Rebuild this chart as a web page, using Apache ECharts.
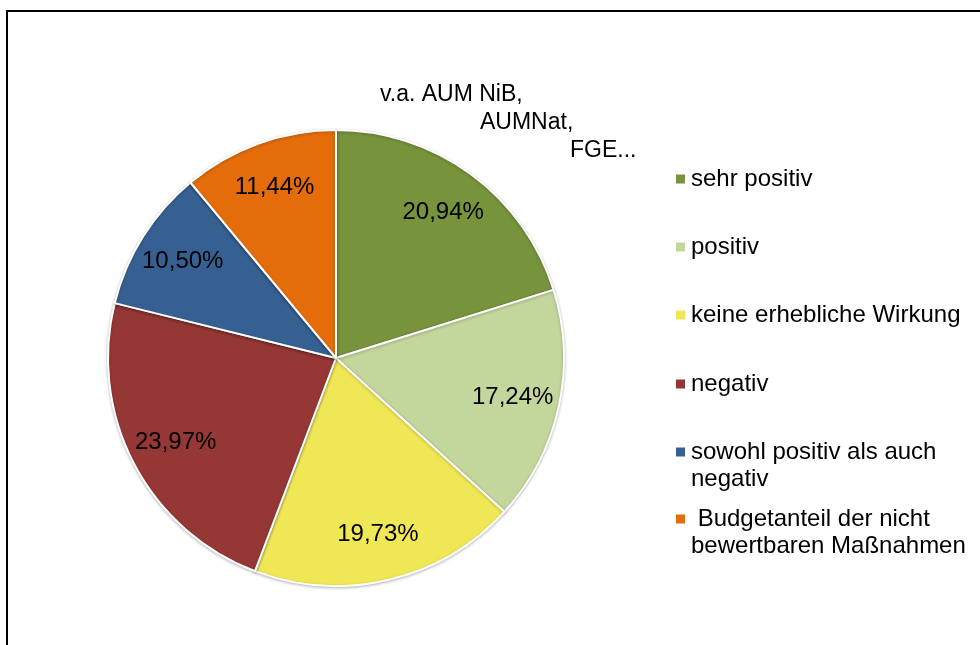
<!DOCTYPE html>
<html>
<head>
<meta charset="utf-8">
<script src="https://cdn.jsdelivr.net/npm/echarts@6/dist/echarts.min.js"></script>
<style>
html,body{margin:0;padding:0;background:#fff;}
#chart{width:980px;height:645px;}
</style>
</head>
<body>
<div id="chart"></div>
<script>
const categories = [
  'sehr positiv',
  'positiv',
  'keine erhebliche Wirkung',
  'negativ',
  'sowohl positiv als auch\nnegativ',
  ' Budgetanteil der nicht\nbewertbaren Maßnahmen'
];
const values = [20.94, 17.24, 19.73, 23.97, 10.50, 11.44];
const colors = ['#77933C', '#C3D69B', '#F0E756', '#953735', '#376092', '#E46C0A'];
const calloutLines = ['v.a. AUM NiB,', 'AUMNat,', 'FGE...'];
const legendCenters = [179, 247, 315, 384, 452, 519];

const FONT = '"Liberation Sans", Arial, sans-serif';
const data = categories.map((n, i) => ({ name: n, value: values[i] }));
const fmt = p => p.value.toFixed(2).replace('.', ',') + '%';

const legends = categories.map((n, i) => {
  const multi = n.includes('\n');
  return {
    orient: 'vertical',
    left: 674,
    top: legendCenters[i] - (multi ? 40.5 : 13.5),
    padding: 0,
    itemWidth: 11,
    itemHeight: 11,
    icon: 'rect',
    selectedMode: false,
    data: [n],
    formatter: name => name.includes('\n') ? '\n' + name : name,
    textStyle: { fontFamily: FONT, fontSize: 24, color: '#000', lineHeight: 27 }
  };
});

const chart = echarts.init(document.getElementById('chart'), null, { renderer: 'canvas' });
chart.setOption({
  backgroundColor: '#fff',
  animation: false,
  color: colors,
  legend: legends,
  graphic: [
    { type: 'rect', silent: true, shape: { x: 7, y: 11, width: 1200, height: 1000 },
      style: { fill: 'none', stroke: '#000', lineWidth: 2 } },
    { type: 'text', left: 380, top: 83, style: { text: calloutLines[0], font: '23px ' + FONT, fill: '#000' } },
    { type: 'text', left: 480, top: 111, style: { text: calloutLines[1], font: '23px ' + FONT, fill: '#000' } },
    { type: 'text', left: 570, top: 139, style: { text: calloutLines[2], font: '23px ' + FONT, fill: '#000' } }
  ],
  series: [
    {
      type: 'pie',
      center: [336, 358],
      radius: 228,
      startAngle: 90,
      clockwise: true,
      silent: true,
      label: { show: false },
      labelLine: { show: false },
      itemStyle: { borderColor: '#fff', borderWidth: 2, shadowBlur: 3, shadowOffsetY: 1, shadowColor: 'rgba(0,0,0,0.25)' },
      data: data
    },
    {
      type: 'pie',
      center: [336, 358],
      radius: [128, 228],
      startAngle: 90,
      clockwise: true,
      silent: true,
      itemStyle: { color: 'rgba(0,0,0,0)', borderWidth: 0 },
      label: { show: true, position: 'inside', formatter: fmt, fontFamily: FONT, fontSize: 24, color: '#000' },
      labelLine: { show: false },
      emphasis: { disabled: true },
      data: data
    }
  ]
});
</script>
</body>
</html>
